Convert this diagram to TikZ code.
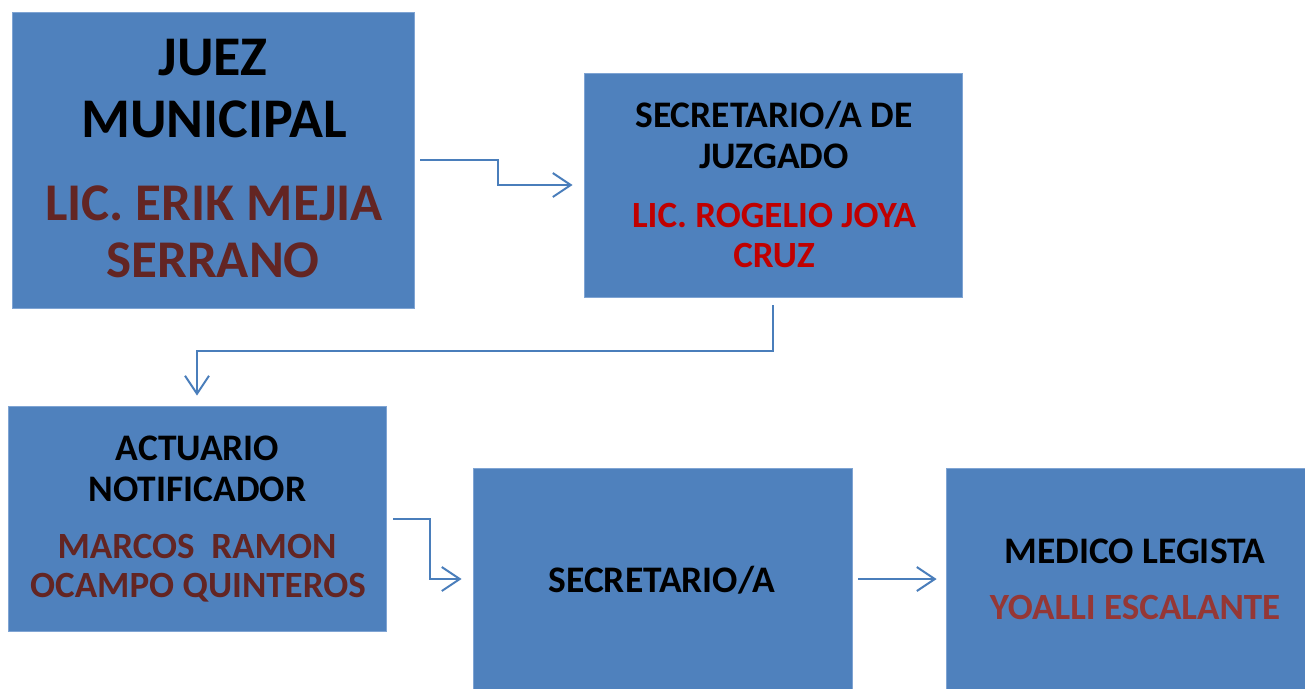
\documentclass[tikz,border=0pt]{standalone}
\usepackage{fontspec}
\setmainfont{Carlito}
\usetikzlibrary{arrows.meta}
\definecolor{boxblue}{HTML}{4F81BD}
\definecolor{boxedge}{HTML}{7FA4D3}
\definecolor{lineblue}{HTML}{4A7EBB}
\definecolor{brownred}{HTML}{632523}
\definecolor{brightred}{HTML}{C00000}
\definecolor{rosered}{HTML}{953735}
\begin{document}
\begin{tikzpicture}[x=1pt,y=-1pt,
  box/.style={draw=boxedge, fill=boxblue, line width=0.8pt, inner sep=0pt, rectangle},
  conn/.style={draw=lineblue, line width=2pt, -{Straight Barb[length=18pt,width=24pt,line width=2pt]}},
  txt/.style={anchor=base, inner sep=0pt},
  bigblack/.style={txt, font=\fontsize{56}{62}\selectfont\bfseries, text=black},
  bigbrown/.style={txt, font=\fontsize{53}{60}\selectfont\bfseries, text=brownred},
  midblack/.style={txt, font=\fontsize{37.5}{42}\selectfont\bfseries, text=black},
  midcol/.style={txt, font=\fontsize{37}{42}\selectfont\bfseries}
]
\useasboundingbox (0,0) rectangle (1305,688);
\fill[white] (0,0) rectangle (1305,688);

% boxes
\node[box, minimum width=402pt, minimum height=296pt] (juez) at (213,160) {};
\node[box, minimum width=378pt, minimum height=224pt] (secj) at (773,185) {};
\node[box, minimum width=378pt, minimum height=225pt] (act) at (197,518.5) {};
\node[box, minimum width=379pt, minimum height=222pt] (sec) at (662.5,579) {};
\node[box, minimum width=362pt, minimum height=222pt] (med) at (1127,579) {};

% texts
\node[bigblack] (t1a) at (213,75) {JUEZ};
\node[bigblack] (t1b) at (214,137) {MUNICIPAL};
\node[bigbrown] (t1c) at (214,220) {LIC. ERIK MEJIA};
\node[bigbrown] (t1d) at (213,277) {SERRANO};

\node[midblack] (t2a) at (774,127) {SECRETARIO/A DE};
\node[midblack] (t2b) at (774,168) {JUZGADO};
\node[midcol, text=brightred] (t2c) at (774,227) {LIC. ROGELIO JOYA};
\node[midcol, text=brightred] (t2d) at (774,267) {CRUZ};

\node[midblack] (t3a) at (197.5,460) {ACTUARIO};
\node[midblack] (t3b) at (197.5,501) {NOTIFICADOR};
\node[midcol, text=brownred] (t3c) at (197,558) {MARCOS\ \ RAMON};
\node[midcol, text=brownred] (t3d) at (198,597) {OCAMPO QUINTEROS};

\node[midblack] (t4a) at (662,592) {SECRETARIO/A};

\node[midblack] (t5a) at (1135,563) {MEDICO LEGISTA};
\node[midcol, text=rosered] (t5b) at (1135,619) {YOALLI ESCALANTE};

% connectors
\draw[conn] ([xshift=6pt]juez.east) -- ++(78,0) |- ([xshift=-11pt]secj.west);
\draw[conn] ([yshift=-8pt]secj.south) -- ++(0,46) -| ([yshift=10pt]act.north);
\draw[conn] ([xshift=7pt]act.east) -- ++(37,0) |- ([xshift=-11pt]sec.west);
\draw[conn] ([xshift=6pt]sec.east) -- ([xshift=-9pt]med.west);
\end{tikzpicture}
\end{document}
